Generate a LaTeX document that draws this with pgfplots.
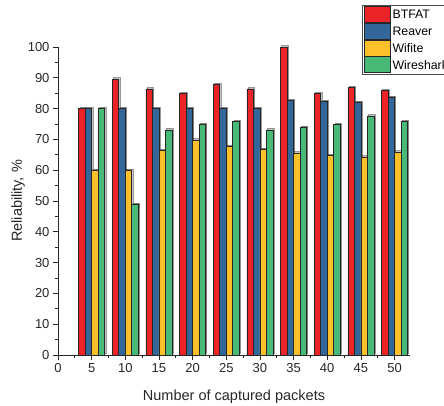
\documentclass[border=0pt]{standalone}
\usepackage{pgfplots}
\pgfplotsset{compat=1.18}
\usepackage{fontspec}
\setmainfont{Liberation Sans}
\usetikzlibrary{shadows}
\definecolor{cR}{HTML}{EC2327}
\definecolor{cB}{HTML}{336699}
\definecolor{cY}{HTML}{FCC12A}
\definecolor{cG}{HTML}{48BA78}
\tikzset{barshadow/.style={drop shadow={shadow xshift=1.2pt, shadow yshift=1.2pt, opacity=0.45, fill=black!50}}}
\begin{document}
\begin{tikzpicture}[x=1pt,y=1pt]
\begin{axis}[
  at={(0,0)}, anchor=south west,
  scale only axis, width=352pt, height=308pt,
  xmin=0, xmax=52.3, ymin=0, ymax=100,
  axis x line*=bottom, axis y line*=left,
  axis line style={-, black!85, line width=0.8pt},
  xtick={0,5,...,50}, ytick={0,10,...,100},
  minor x tick num=1, minor y tick num=1,
  tick align=outside,
  major tick length=5pt, minor tick length=3pt,
  tick style={black!85, line width=0.7pt},
  /pgf/number format/assume math mode=true,
  tick label style={font=\fontsize{13}{15}\selectfont, text=black!85},
  label style={font=\fontsize{14.5}{17}\selectfont, text=black!85},
  xlabel={Number of captured packets},
  ylabel={Reliability, \%},
  xlabel style={yshift=-10pt},
  ylabel style={yshift=-4pt},
  ybar, bar width=6.5pt,
  legend cell align=left,
  legend style={at={(304pt,350pt)}, anchor=north west, draw=black!70, line width=0.8pt,
     font=\fontsize{12.3}{15}\selectfont, row sep=0pt, inner xsep=2pt, inner ysep=1pt,
     nodes={inner sep=1.5pt}},
  legend image code/.code={\draw[#1] (0pt,-7.5pt) rectangle (26pt,8.5pt);},
  clip=false,
]
\addplot[fill=cR, draw=black!85, line width=0.7pt, barshadow, bar shift=-9.75pt, forget plot] coordinates {(5,80) (10,89.6) (15,86.4) (20,84.8) (25,87.8) (30,86.4) (35,100) (40,84.8) (45,86.8) (50,85.8)};
\addplot[fill=cB, draw=black!85, line width=0.7pt, barshadow, bar shift=-3.25pt, forget plot] coordinates {(5,80) (10,80) (15,80) (20,80) (25,80) (30,80) (35,82.6) (40,82.3) (45,82) (50,83.7)};
\addplot[fill=cY, draw=black!85, line width=0.7pt, barshadow, bar shift=3.25pt, forget plot] coordinates {(5,60) (10,60) (15,66.4) (20,69.8) (25,67.8) (30,66.8) (35,65.6) (40,64.8) (45,64.3) (50,65.9)};
\addplot[fill=cG, draw=black!85, line width=0.7pt, barshadow, bar shift=9.75pt, forget plot] coordinates {(5,80) (10,49) (15,73.1) (20,74.8) (25,75.8) (30,73.1) (35,74) (40,74.8) (45,77.6) (50,75.8)};
\addlegendimage{fill=cR, draw=black!85, line width=0.7pt}
\addlegendentry{BTFAT}
\addlegendimage{fill=cB, draw=black!85, line width=0.7pt}
\addlegendentry{Reaver}
\addlegendimage{fill=cY, draw=black!85, line width=0.7pt}
\addlegendentry{Wifite}
\addlegendimage{fill=cG, draw=black!85, line width=0.7pt}
\addlegendentry{Wireshark}
\end{axis}
\pgfresetboundingbox
\useasboundingbox (-58,-50) rectangle (386,355);
\end{tikzpicture}
\end{document}
